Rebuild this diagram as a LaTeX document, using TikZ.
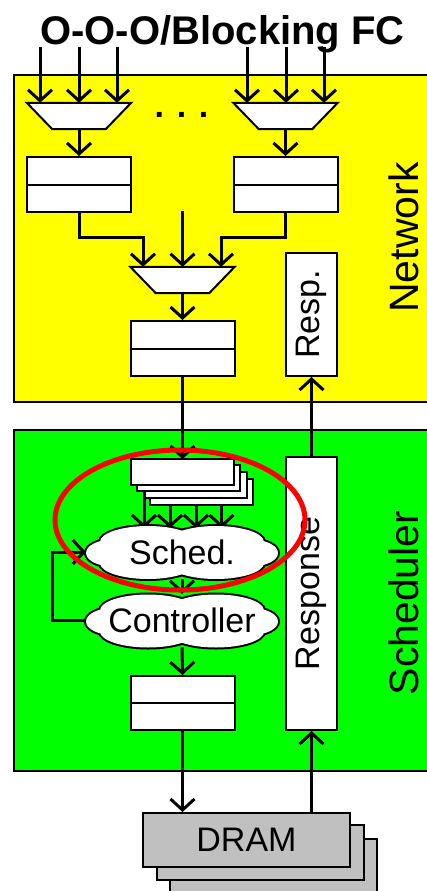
\documentclass[tikz,border=0pt]{standalone}
\usepackage{fontspec}
\setmainfont{Liberation Sans}
\usetikzlibrary{arrows.meta,calc}
\definecolor{ylw}{HTML}{FFFF00}
\definecolor{grn}{HTML}{00FF00}
\definecolor{gry}{HTML}{C0C0C0}
\definecolor{rd}{HTML}{FF0000}
\tikzset{
  ar/.style={line width=3pt, -{Straight Barb[length=11pt,width=24pt]}},
  buf/.style={draw, line width=2pt, fill=white, minimum width=104pt, minimum height=55pt, inner sep=0pt},
  rbox/.style={draw, line width=2pt, fill=white, inner sep=0pt},
  muxnode/.style={minimum width=104pt, minimum height=26pt, inner sep=0pt},
  muxshape/.style={draw, line width=2pt, fill=white, line join=miter},
  dram/.style={draw, line width=2pt, fill=gry, minimum width=207pt, minimum height=54pt, inner sep=0pt},
  lbl/.style={font=\fontsize{34}{40}\selectfont, inner sep=0pt},
  biglbl/.style={font=\fontsize{41}{48}\selectfont, inner sep=0pt, rotate=90, anchor=base},
  cloudnode/.style={minimum width=192pt, minimum height=53pt, inner sep=0pt, font=\fontsize{34}{40}\selectfont},
  cloudpic/.pic={
    \foreach \cx/\cy/\rx/\ry in {-69/1/27/13.5, 69/1/27/13.5, -34/-10/48/16, 34/-10/48/16, -34/11/48/16, 34/11/48/16}
      \draw[line width=4pt] (\cx,\cy) ellipse [x radius=\rx pt, y radius=\ry pt];
    \foreach \cx/\cy/\rx/\ry in {-69/1/27/13.5, 69/1/27/13.5, -34/-10/48/16, 34/-10/48/16, -34/11/48/16, 34/11/48/16}
      \fill[white] (\cx,\cy) ellipse [x radius=\rx pt, y radius=\ry pt];
  }
}
\newcommand\drawmux[1]{\draw[muxshape] (#1.north west) -- (#1.north east) -- ($(#1.south east)+(-25.5,0)$) -- ($(#1.south west)+(25.5,0)$) -- cycle;}
\begin{document}
\begin{tikzpicture}[x=1pt,y=-1pt]
\useasboundingbox (0,0) rectangle (427,891);
% backgrounds
\fill[white] (0,0) rectangle (427,891);
\draw[fill=ylw, line width=2pt] (14,75) rectangle (429,402);
\draw[fill=grn, line width=2pt] (14,430) rectangle (429,771);
% title
\node[anchor=base, inner sep=0pt, font=\fontsize{40}{48}\selectfont\bfseries] (title) at (222.5,45) {O-O-O/Blocking FC};
% side labels
\node[biglbl] (netlbl) at (418.5,237.5) {Network};
\node[biglbl] (schlbl) at (418.5,603) {Scheduler};
% muxes and buffers
\node[muxnode] (mL) at (79,116) {};
\node[muxnode] (mR) at (285.5,116) {};
\node[muxnode] (mC) at (182.5,280) {};
\drawmux{mL}
\drawmux{mR}
\drawmux{mC}
\node[lbl, anchor=base, font=\fontsize{34}{40}\selectfont\bfseries] (dots) at (181.5,117) {. . .};
\node[buf] (bufL) at (79,184.5) {};
\node[buf] (bufR) at (285.5,184.5) {};
\node[buf] (bufC) at (182.5,348.5) {};
\node[rbox, minimum width=51pt, minimum height=123pt] (resp) at (311.5,314.5) {};
\node[lbl, rotate=90] (resptxt) at (resp.center) {Resp.};
% inputs
\foreach \n/\x in {1/40,2/79,3/117} {
  \coordinate (iL\n) at (\x,47);
  \draw[ar] (iL\n) -- (iL\n |- mL.north);
}
\foreach \n/\x in {1/247,2/286,3/324} {
  \coordinate (iR\n) at (\x,47);
  \draw[ar] (iR\n) -- (iR\n |- mR.north);
}
\draw[ar] (mL.south) -- (bufL.north);
\draw[ar] (mR.south) -- (bufR.north);
% merge into center mux
\coordinate (jL) at (143,237);
\coordinate (jR) at (221,237);
\coordinate (mid) at (182.5,211);
\draw[ar] (bufL.south) -- (bufL.south |- jL) -- (jL) -- (jL |- mC.north);
\draw[ar] (bufR.south) -- (bufR.south |- jR) -- (jR) -- (jR |- mC.north);
\draw[ar] (mid) -- (mid |- mC.north);
\draw[ar] (mC.south) -- (bufC.north);
% scheduler part
\node[rbox, minimum width=51pt, minimum height=273pt] (response) at (311.5,593.5) {};
\node[lbl, rotate=90] (resptxt2) at (response.center) {Response};
\draw[ar] (response.north) -- (resp.south);
% stacked scheduler buffers
\coordinate (t1) at (144,528);
\coordinate (t2) at (170,528);
\coordinate (t3) at (196,528);
\coordinate (t4) at (221.5,528);
\draw[ar] (bufC.south) -- (182.5,459);
\node[rbox, minimum width=103pt, minimum height=26pt] (sb4) at (201.5,491.5) {};
\node[rbox, minimum width=103pt, minimum height=26pt] (sb3) at (195,485) {};
\node[rbox, minimum width=103pt, minimum height=26pt] (sb2) at (188.5,478) {};
\node[rbox, minimum width=103pt, minimum height=26pt] (sb1) at (182,471.5) {};
\draw[ar] (t1 |- sb2.south) -- (t1);
\draw[ar] (t2 |- sb4.south) -- (t2);
\draw[ar] (t3 |- sb4.south) -- (t3);
\draw[ar] (t4 |- sb4.south) -- (t4);
% clouds
\pic at (182,552) {cloudpic};
\node[cloudnode] (sched) at (182,552) {Sched.};
\pic at (182,620.5) {cloudpic};
\node[cloudnode] (ctrl) at (182,620.5) {Controller};
\draw[ar] (sched.south) -- (ctrl.north);
\draw[ar] (ctrl.west) -- ++(-33,0) |- (sched.west);
\node[buf, minimum height=54pt] (bufS) at (182.5,703) {};
\draw[ar] (ctrl.south) -- (bufS.north);
% DRAM stack
\node[dram, minimum height=61pt] (dram3) at (273,869.5) {};
\node[dram, minimum height=55pt] (dram2) at (260,852.5) {};
\node[dram] (dram) at (246.5,840) {};
\node[lbl] (dramtxt) at (dram.center) {DRAM};
\draw[ar] (bufS.south) -- (bufS.south |- dram.north);
\draw[ar] (dram.north -| response.south) -- (response.south);
% buffer midlines
\foreach \b in {bufL,bufR,bufC,bufS}
  \draw[line width=2pt] (\b.west) -- (\b.east);
% red highlight
\draw[rd, line width=5pt] (180,520) ellipse [x radius=125pt, y radius=70pt];
\end{tikzpicture}
\end{document}
